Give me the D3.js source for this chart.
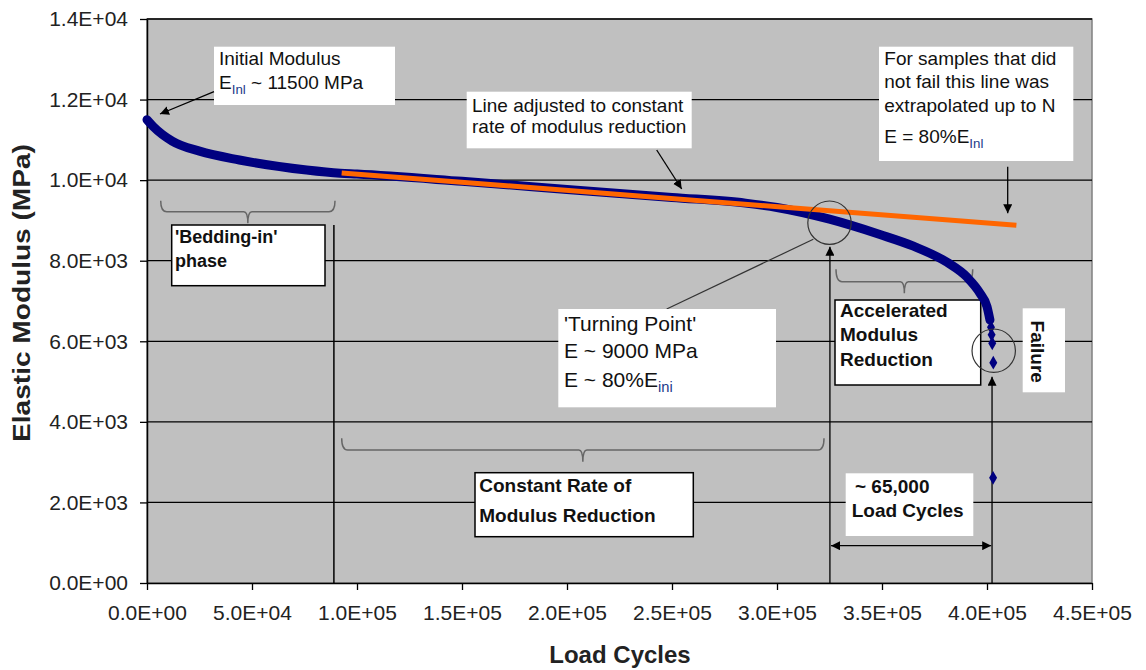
<!DOCTYPE html>
<html><head><meta charset="utf-8">
<script src="https://cdn.jsdelivr.net/npm/d3@7"></script>
<style>body{margin:0;background:#fff} svg{display:block;font-family:"Liberation Sans",Arial,sans-serif}</style>
</head><body><svg id="c" width="1146" height="670"></svg>
<script>
// ---- data ----
const cycles  = [0, 3000, 12000, 25000, 44000, 76000, 92000, 100000, 150000, 200000, 250000, 285000, 300000, 325000, 349000, 365000, 381000, 390500, 396700, 400000, 401400];
const modulus = [11500, 11330, 10970, 10720, 10500, 10250, 10170, 10150, 9970, 9770, 9570, 9430, 9320, 9030, 8650, 8360, 7960, 7590, 7190, 6860, 6530];
const failCycles  = [401900, 402200, 402500, 403000, 402900];
const failModulus = [6350, 6160, 5950, 5470, 2610];
const fitCycles  = [92700, 414000];
const fitModulus = [10180, 8880];
const xTicks = [0, 50000, 100000, 150000, 200000, 250000, 300000, 350000, 400000, 450000];
const xTickLabels = ["0.0E+00","5.0E+04","1.0E+05","1.5E+05","2.0E+05","2.5E+05","3.0E+05","3.5E+05","4.0E+05","4.5E+05"];
const yTicks = [0, 2000, 4000, 6000, 8000, 10000, 12000, 14000];
const yTickLabels = ["0.0E+00","2.0E+03","4.0E+03","6.0E+03","8.0E+03","1.0E+04","1.2E+04","1.4E+04"];

const svg = d3.select("#c");
const L = 147, R = 1092, T = 19, B = 583;
const x = d3.scaleLinear().domain([0, 450000]).range([L, R]);
const y = d3.scaleLinear().domain([0, 14000]).range([B, T]);
const TXT = "#111";

const defs = svg.append("defs");
defs.append("marker").attr("id","arr").attr("viewBox","0 0 10 10").attr("refX",10).attr("refY",5)
  .attr("markerWidth",9).attr("markerHeight",9).attr("markerUnits","userSpaceOnUse").attr("orient","auto-start-reverse")
  .append("path").attr("d","M0,0 L10,5 L0,10 z").attr("fill","#000");

svg.append("rect").attr("width",1146).attr("height",670).attr("fill","#fff");
svg.append("rect").attr("x",L).attr("y",T).attr("width",R-L).attr("height",B-T)
  .attr("fill","#c0c0c0").attr("stroke","#808080").attr("stroke-width",1.5);

// gridlines
svg.append("g").selectAll("line").data(yTicks.filter(d => d > 0)).join("line")
  .attr("x1",L).attr("x2",R).attr("y1",d => y(d)).attr("y2",d => y(d))
  .attr("stroke","#000").attr("stroke-width",1.3);

// axes
const yAxis = d3.axisLeft(y).tickValues(yTicks).tickFormat((d,i) => yTickLabels[i]).tickSize(7).tickSizeOuter(0).tickPadding(12);
const gy = svg.append("g").attr("transform",`translate(${L},0)`).call(yAxis);
const xAxis = d3.axisBottom(x).tickValues(xTicks).tickFormat((d,i) => xTickLabels[i]).tickSize(7).tickSizeOuter(0).tickPadding(15);
const gx = svg.append("g").attr("transform",`translate(0,${B})`).call(xAxis);
[gx, gy].forEach(g => {
  g.select(".domain").attr("stroke","#000").attr("stroke-width",1.5);
  g.selectAll(".tick line").attr("stroke","#000").attr("stroke-width",1.3);
  g.selectAll(".tick text").attr("fill","#222").style("font-size","21px").style("font-family",'"Liberation Sans",Arial,sans-serif');
});

// axis titles
svg.append("text").attr("x",620).attr("y",663).attr("text-anchor","middle")
  .style("font-size","24px").style("font-weight","bold").attr("fill","#222").text("Load Cycles");
svg.append("text").attr("transform","translate(30,293) rotate(-90) scale(1.17,1)").attr("text-anchor","middle")
  .style("font-size","24px").style("font-weight","bold").attr("fill","#222").text("Elastic Modulus (MPa)");

// ---- annotation helpers ----
function box(x0, y0, w, h, border) {
  svg.append("rect").attr("x",x0).attr("y",y0).attr("width",w).attr("height",h)
    .attr("fill","#fff").attr("stroke", border ? "#000" : "none").attr("stroke-width",1.5);
}
function txt(x0, y0, s, size, bold) {
  return svg.append("text").attr("x",x0).attr("y",y0).attr("fill",TXT)
    .style("font-size",size+"px").style("font-weight",bold ? "bold" : "normal").text(s);
}
function sub(x0, y0, pre, subs, post, size) {
  const t = svg.append("text").attr("x",x0).attr("y",y0).attr("fill",TXT).style("font-size",size+"px");
  t.append("tspan").text(pre);
  t.append("tspan").attr("dy",5).style("font-size",(size*0.7)+"px").attr("fill","#223a8a").text(subs);
  if (post) t.append("tspan").attr("dy",-5).text(post);
}
function arrow(x1, y1, x2, y2, both) {
  const l = svg.append("line").attr("x1",x1).attr("y1",y1).attr("x2",x2).attr("y2",y2)
    .attr("stroke","#000").attr("stroke-width",1.3).attr("marker-end","url(#arr)");
  if (both) l.attr("marker-start","url(#arr)");
}
function brace(x1, x2, yTop, yMid, yTip) {
  const xm = (x1 + x2) / 2, c = 6;
  const d = `M${x1},${yTop} Q${x1},${yMid} ${x1+c},${yMid} L${xm-4},${yMid} Q${xm},${yMid} ${xm},${yTip}` +
            `M${xm},${yTip} Q${xm},${yMid} ${xm+4},${yMid} L${x2-c},${yMid} Q${x2},${yMid} ${x2},${yTop}`;
  svg.append("path").attr("d",d).attr("fill","none").attr("stroke","#666").attr("stroke-width",1.5);
}

// brackets
brace(160.7, 335, 200.7, 211.7, 223.3);
brace(341.7, 824, 438.3, 450, 461.7);
brace(836, 972.7, 269.3, 281.7, 293.3);

// vertical marker lines
svg.append("line").attr("x1",x(89000)).attr("x2",x(89000)).attr("y1",225).attr("y2",B).attr("stroke","#000").attr("stroke-width",1.5);
arrow(x(325200), B, x(325200), 246.7);
arrow(x(402400), B, x(402400), 376.7);
arrow(x(325700), 545.7, x(402000), 545.7, true);

// boxes and texts
box(214, 46.7, 181, 58.3, false);
txt(219, 65, "Initial Modulus", 19);
sub(219, 89.3, "E", "Inl", " ~ 11500 MPa", 19);
arrow(214, 91.7, 160, 114);

box(466.7, 91.7, 225, 56.6, false);
txt(472, 111.7, "Line adjusted to constant", 19);
txt(472, 133.3, "rate of modulus reduction", 19);
arrow(656.7, 150, 681.7, 189);

box(879, 46.7, 194.3, 114.3, false);
txt(884.3, 65, "For samples that did", 19);
txt(884.3, 88.3, "not fail this line was", 19);
txt(884.3, 111.7, "extrapolated up to N", 19);
sub(884.3, 143.3, "E = 80%E", "Inl", null, 19);
arrow(1007.7, 166.7, 1007.7, 213.3);

svg.append("line").attr("x1",666.7).attr("y1",309).attr("x2",813.3).attr("y2",239.3).attr("stroke","#333").attr("stroke-width",1.2);
box(558.3, 309, 217.7, 98.3, false);
txt(564, 330.7, "'Turning Point'", 21);
txt(564, 358.3, "E ~ 9000 MPa", 21);
sub(564, 386.7, "E ~ 80%E", "ini", null, 21);

box(171.7, 225, 153.3, 60.7, true);
txt(175, 243.3, "'Bedding-in'", 18, true);
txt(175, 267, "phase", 18, true);

box(475, 472.7, 218.3, 64, true);
txt(479.3, 491.7, "Constant Rate of", 19, true);
txt(479.3, 521.7, "Modulus Reduction", 19, true);

box(835, 300, 145.7, 85, true);
txt(840, 317.3, "Accelerated", 19, true);
txt(840, 340.7, "Modulus", 19, true);
txt(840, 365.7, "Reduction", 19, true);

box(1022.7, 308.3, 42.3, 84, false);
svg.append("text").attr("transform","translate(1031,351.7) rotate(90)").attr("text-anchor","middle")
  .attr("fill",TXT).style("font-size","19px").style("font-weight","bold").text("Failure");

box(845.7, 473.3, 127.6, 62.7, false);
txt(855, 492.7, "~ 65,000", 19, true);
txt(851.7, 516.7, "Load Cycles", 19, true);

// ---- data series ----
const idx = d3.range(cycles.length);
const line = d3.line().x(i => x(cycles[i])).y(i => y(modulus[i])).curve(d3.curveMonotoneX);
svg.append("path").attr("d", line(idx)).attr("fill","none").attr("stroke","#000080")
  .attr("stroke-width",9).attr("stroke-linecap","round").attr("stroke-linejoin","round");
svg.append("g").selectAll("path").data(d3.range(failCycles.length)).join("path")
  .attr("transform", i => `translate(${x(failCycles[i])},${y(failModulus[i])})`)
  .attr("d", d3.symbol(d3.symbolDiamond).size(55)).attr("fill","#000080");

svg.append("line").attr("x1",x(fitCycles[0])).attr("y1",y(fitModulus[0]))
  .attr("x2",x(fitCycles[1])).attr("y2",y(fitModulus[1]))
  .attr("stroke","#ff6600").attr("stroke-width",5);

// circles
svg.append("circle").attr("cx",x(325000)).attr("cy",y(8944)).attr("r",21.7)
  .attr("fill","none").attr("stroke","#333").attr("stroke-width",1.2);
svg.append("circle").attr("cx",x(403200)).attr("cy",y(5766)).attr("r",21.7)
  .attr("fill","none").attr("stroke","#333").attr("stroke-width",1.2);
</script></body></html>
